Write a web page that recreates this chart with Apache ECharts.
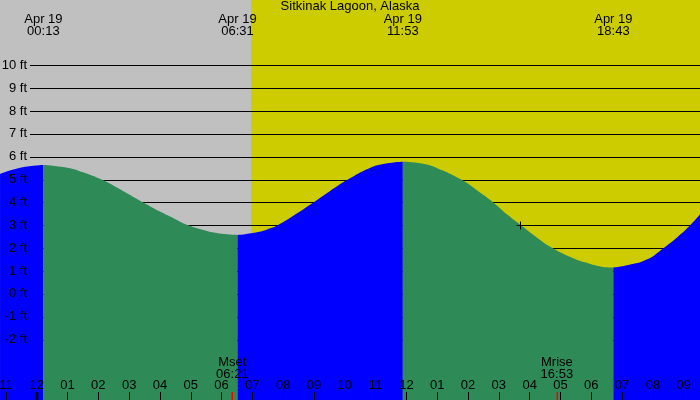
<!DOCTYPE html>
<html><head><meta charset="utf-8">
<script src="https://cdn.jsdelivr.net/npm/echarts@6/dist/echarts.min.js"></script>
<style>html,body{margin:0;padding:0;background:#c0c0c0}#c{width:700px;height:400px}</style>
</head><body><div id="c"></div>
<script>
// ---- data ----
const chartTitle = 'Sitkinak Lagoon, Alaska';
const dateLabel = 'Apr 19';
// tide curve: hours after midnight Apr 19, and height in feet
const tideHours = [-1.19, -0.5, 0.2167, 1.0, 1.5, 2.11, 2.5, 3.0, 3.46, 4.0, 4.5, 4.92, 5.5, 6.0, 6.5167,
  7.12, 7.5, 7.82, 8.4, 8.98, 9.5, 10.1, 10.8, 11.34, 11.8833,
  12.5, 13.0, 13.78, 14.3, 14.82, 15.27, 15.72, 16.25, 16.75, 17.3, 17.8, 18.3, 18.7167,
  19.2, 19.8, 20.34, 20.8, 21.21, 21.54];
const tideFeet = [5.25, 5.53, 5.64, 5.52, 5.32, 5.0, 4.73, 4.35, 4.0, 3.6, 3.27, 3.0, 2.76, 2.63, 2.58,
  2.69, 2.83, 3.0, 3.48, 4.0, 4.48, 5.0, 5.5, 5.70, 5.78,
  5.70, 5.50, 5.0, 4.52, 4.0, 3.47, 3.0, 2.45, 2.0, 1.63, 1.38, 1.2, 1.15,
  1.26, 1.5, 2.0, 2.49, 3.0, 3.5];
const extremeTimes = ['00:13', '06:31', '11:53', '18:43'];
const moonNames = ['Mset', 'Mrise'];
const moonTimes = ['06:21', '16:53'];
const sunriseTime = '06:57';
const gridLevels = [10, 9, 8, 7, 6, 5, 4, 3, 2, 1, 0, -1, -2];
const markerPoint = [15.69, 3.0];
const hourRange = [-2, 22];
const feetRange = [-5, 13];

// ---- styles ----
const FONT = 'Liberation Sans, Arial, sans-serif';
const NIGHT = '#c0c0c0', DAY = '#cccc00', RISE = '#0000ff', FALL = '#2e8b57';

function toHour(t) { const p = t.split(':').map(Number); return p[0] + p[1] / 60; }
function nearestIdx(h) {
  let best = 0;
  tideHours.forEach((v, i) => { if (Math.abs(v - h) < Math.abs(tideHours[best] - h)) best = i; });
  return best;
}

const extremeHours = extremeTimes.map(toHour);
const bounds = [0].concat(extremeHours.map(nearestIdx), [tideHours.length - 1]);
const segSeries = [];
for (let s = 0; s < bounds.length - 1; s++) {
  const a = bounds[s], b = bounds[s + 1];
  const pts = [];
  for (let i = a; i <= b; i++) pts.push([tideHours[i], tideFeet[i]]);
  const rising = tideFeet[b] > tideFeet[a];
  const col = rising ? RISE : FALL;
  segSeries.push({
    type: 'line', data: pts, showSymbol: false, smooth: 0.5, z: 2,
    lineStyle: { width: 0, color: col }, itemStyle: { color: col },
    areaStyle: { color: col, opacity: 1, origin: 'start' },
    silent: true, animation: false
  });
}

const chart = echarts.init(document.getElementById('c'), null, { renderer: 'canvas' });
const W = 700, H = 400;
const pxPerHour = 30.81, midnightX = 36.7;
const pxPerFt = 22.86, zeroY = 293.9;
const gridLeft = midnightX + hourRange[0] * pxPerHour;
const gridRight = midnightX + hourRange[1] * pxPerHour;
const gridTop = zeroY - feetRange[1] * pxPerFt;
const gridBottom = zeroY - feetRange[0] * pxPerFt;

chart.setOption({
  animation: false,
  backgroundColor: NIGHT,
  title: {
    text: chartTitle, left: 'center', top: 0, padding: 0,
    textStyle: { fontSize: 13, fontWeight: 'normal', color: '#000', fontFamily: FONT, lineHeight: 13 }
  },
  grid: {
    left: gridLeft,
    right: W - gridRight,
    top: gridTop,
    bottom: H - gridBottom,
    containLabel: false,
    outerBoundsMode: 'none'
  },
  xAxis: {
    type: 'value', min: hourRange[0], max: hourRange[1], interval: 1, z: 10,
    position: 'bottom',
    offset: H - gridBottom,
    axisLine: { show: false, onZero: false },
    axisTick: { show: true, inside: true, length: 8, lineStyle: { color: '#000', width: 1 } },
    splitLine: { show: false },
    axisLabel: {
      inside: true, margin: 8, color: '#000', fontSize: 13, fontFamily: FONT,
      formatter: v => { let h = ((v % 12) + 12) % 12; if (h === 0) h = 12; return String(h).padStart(2, '0'); }
    }
  },
  yAxis: {
    type: 'value', min: feetRange[0], max: feetRange[1], interval: 1, z: 10,
    offset: gridLeft,
    axisLine: { show: false, onZero: false }, axisTick: { show: false }, splitLine: { show: false },
    axisLabel: {
      inside: true, margin: 27, align: 'right', color: '#000', fontSize: 13, fontFamily: FONT,
      formatter: v => (gridLevels.indexOf(v) >= 0 ? v + ' ft' : '')
    }
  },
  series: [
    {
      type: 'custom', z: 0, silent: true,
      data: [[toHour(sunriseTime), hourRange[1]]],
      renderItem: (params, api) => {
        const x0 = api.coord([api.value(0), 0])[0];
        const x1 = api.coord([api.value(1), 0])[0];
        return { type: 'rect', shape: { x: Math.round(x0), y: 0, width: x1 - Math.round(x0), height: api.getHeight() }, style: { fill: DAY } };
      }
    },
    {
      type: 'custom', z: 1, silent: true,
      data: gridLevels.map(v => [v]),
      renderItem: (params, api) => {
        const y = Math.round(api.coord([0, api.value(0)])[1]) + 0.5;
        return { type: 'line', shape: { x1: 30, y1: y, x2: api.getWidth(), y2: y }, style: { stroke: '#000', lineWidth: 1 } };
      }
    },
    ...segSeries,
    {
      type: 'custom', z: 5, silent: true,
      data: extremeTimes.map(t => [toHour(t)]),
      renderItem: (params, api) => {
        const x = api.coord([api.value(0), 0])[0];
        return { type: 'text', style: { text: dateLabel + '\n' + extremeTimes[params.dataIndex], x: x, y: 25.5,
          align: 'center', verticalAlign: 'middle', font: '13px ' + FONT, lineHeight: 12, fill: '#000' } };
      }
    },
    {
      type: 'custom', z: 5, silent: true,
      data: moonTimes.map(t => [toHour(t)]),
      renderItem: (params, api) => {
        const x = api.coord([api.value(0), 0])[0];
        const h = api.getHeight();
        return { type: 'group', children: [
          { type: 'text', style: { text: moonNames[params.dataIndex] + '\n' + moonTimes[params.dataIndex], x: x, y: 368,
            align: 'center', verticalAlign: 'middle', font: '13px ' + FONT, lineHeight: 12, fill: '#000' } },
          { type: 'rect', shape: { x: Math.round(x) - 0.5, y: h - 8, width: 1.5, height: 8 }, style: { fill: '#ff0000' } }
        ] };
      }
    },
    {
      type: 'custom', z: 5, silent: true,
      data: [[0]],
      renderItem: (params, api) => {
        const x = api.coord([api.value(0), 0])[0];
        const h = api.getHeight();
        return { type: 'rect', shape: { x: x - 1.5, y: h - 8, width: 3, height: 8 }, style: { fill: '#000' } };
      }
    },
    {
      type: 'custom', z: 5, silent: true,
      data: [markerPoint],
      renderItem: (params, api) => {
        const p = api.coord([api.value(0), api.value(1)]);
        const x = Math.round(p[0]) + 0.5, y = Math.round(p[1]) + 0.5;
        return { type: 'group', children: [
          { type: 'line', shape: { x1: x - 4, y1: y, x2: x + 4, y2: y }, style: { stroke: '#000', lineWidth: 1 } },
          { type: 'line', shape: { x1: x, y1: y - 4, x2: x, y2: y + 4 }, style: { stroke: '#000', lineWidth: 1 } }
        ] };
      }
    }
  ]
});
</script></body></html>
